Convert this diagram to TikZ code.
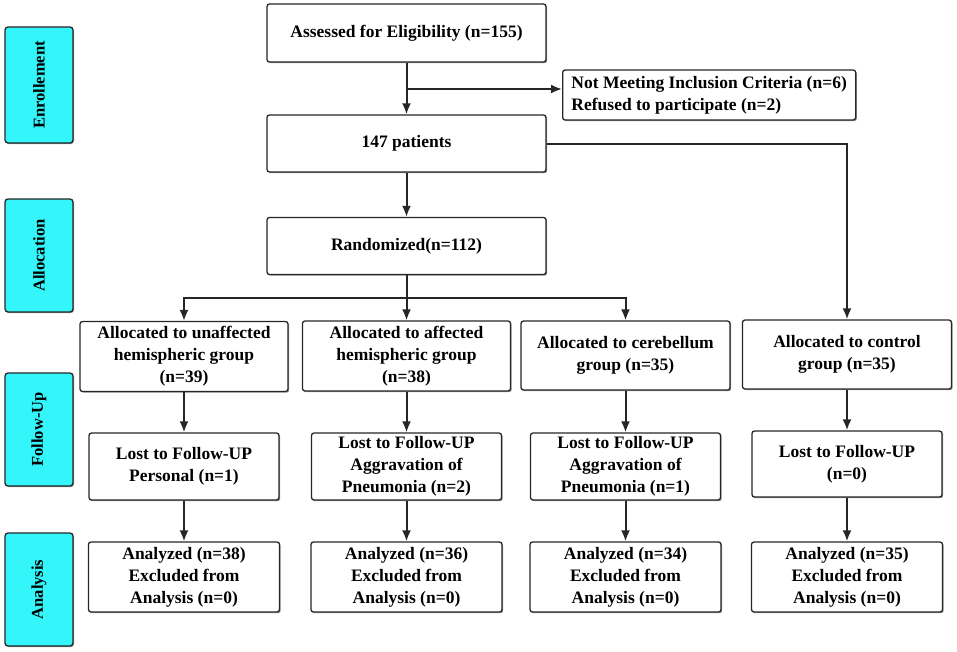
\documentclass[tikz,border=0pt]{standalone}
\usepackage{fontspec}
\setmainfont{Liberation Serif}
\usetikzlibrary{arrows.meta,shadows}
\definecolor{sidecyan}{RGB}{51,245,250}
\definecolor{shadowgray}{RGB}{150,150,150}
\tikzset{
  box/.style={draw=black!85, line width=1.3pt, rounded corners=2.5pt, fill=white,
    align=center, inner sep=2pt, font=\fontsize{17.5}{22}\selectfont\bfseries,
    drop shadow={shadow xshift=1.2pt, shadow yshift=-1.2pt, fill=shadowgray, opacity=1}},
  sidebox/.style={draw=black!85, line width=1.3pt, rounded corners=3pt, fill=sidecyan,
    minimum width=68pt, font=\fontsize{16.5}{18}\selectfont\bfseries,
    drop shadow={shadow xshift=1pt, shadow yshift=-1pt, fill=shadowgray, opacity=1}},
  conn/.style={draw=black!85, line width=2pt},
  arr/.style={conn, -{Latex[length=11pt,width=9pt]}}
}
\begin{document}
\begin{tikzpicture}[x=1pt,y=-1pt]
\useasboundingbox (0,0) rectangle (957,651);
% side labels
\node[sidebox, minimum height=116pt] (en) at (39,85) {\rotatebox{90}{Enrollement}};
\node[sidebox, minimum height=113pt] (al) at (39,255.5) {\rotatebox{90}{Allocation}};
\node[sidebox, minimum height=113pt] (fu) at (39,429.5) {\rotatebox{90}{Follow-Up}};
\node[sidebox, minimum height=113pt] (an) at (39,589.5) {\rotatebox{90}{Analysis}};
% top column
\node[box, minimum width=279pt, minimum height=58pt] (assess) at (406.5,33) {Assessed for Eligibility (n=155)};
\node[box, minimum width=293pt, minimum height=50pt, align=left, inner xsep=8pt, anchor=west] (excl) at (562,95) {Not Meeting Inclusion Criteria (n=6)\\Refused to participate (n=2)};
\node[box, minimum width=279pt, minimum height=57pt] (pts) at (406.5,143.5) {147 patients};
\node[box, minimum width=279pt, minimum height=57pt] (rand) at (406.5,246) {Randomized(n=112)};
% allocation row
\node[box, minimum width=208pt, minimum height=70pt] (a1) at (184,356.5) {Allocated to unaffected\\hemispheric group\\(n=39)};
\node[box, minimum width=208pt, minimum height=70pt] (a2) at (406.5,356) {Allocated to affected\\hemispheric group\\(n=38)};
\node[box, minimum width=209pt, minimum height=69pt] (a3) at (625.5,355.5) {Allocated to cerebellum\\group (n=35)};
\node[box, minimum width=209pt, minimum height=69pt] (a4) at (847,354.5) {Allocated to control\\group (n=35)};
% follow-up row
\node[box, minimum width=190pt, minimum height=67pt] (l1) at (184,466.5) {Lost to Follow-UP\\Personal (n=1)};
\node[box, minimum width=190pt, minimum height=67pt] (l2) at (406.5,466.5) {Lost to Follow-UP\\Aggravation of\\Pneumonia (n=2)};
\node[box, minimum width=190pt, minimum height=67pt] (l3) at (625.5,466.5) {Lost to Follow-UP\\Aggravation of\\Pneumonia (n=1)};
\node[box, minimum width=190pt, minimum height=66pt] (l4) at (847,464) {Lost to Follow-UP\\(n=0)};
% analysis row
\node[box, minimum width=191pt, minimum height=70pt] (n1) at (184,577) {Analyzed (n=38)\\Excluded from\\Analysis (n=0)};
\node[box, minimum width=191pt, minimum height=70pt] (n2) at (406.5,577) {Analyzed (n=36)\\Excluded from\\Analysis (n=0)};
\node[box, minimum width=191pt, minimum height=70pt] (n3) at (625.5,577) {Analyzed (n=34)\\Excluded from\\Analysis (n=0)};
\node[box, minimum width=191pt, minimum height=70pt] (n4) at (847,577) {Analyzed (n=35)\\Excluded from\\Analysis (n=0)};
% connectors
\draw[arr] (assess.south) -- (pts.north);
\coordinate (br) at (406.5,89);
\draw[arr] (br) -- (br -| excl.west);
\draw[arr] (pts.east) -| (a4.north);
\draw[arr] (pts.south) -- (rand.north);
\coordinate (sp) at (406.5,298);
\draw[conn] (rand.south) -- (sp);
\draw[arr] (sp) -| (a1.north);
\draw[arr] (sp) -- (a2.north);
\draw[arr] (sp) -| (a3.north);
\foreach \i in {1,2,3,4}{
  \draw[arr] (a\i.south) -- (l\i.north);
  \draw[arr] (l\i.south) -- (n\i.north);
}
\end{tikzpicture}
\end{document}
